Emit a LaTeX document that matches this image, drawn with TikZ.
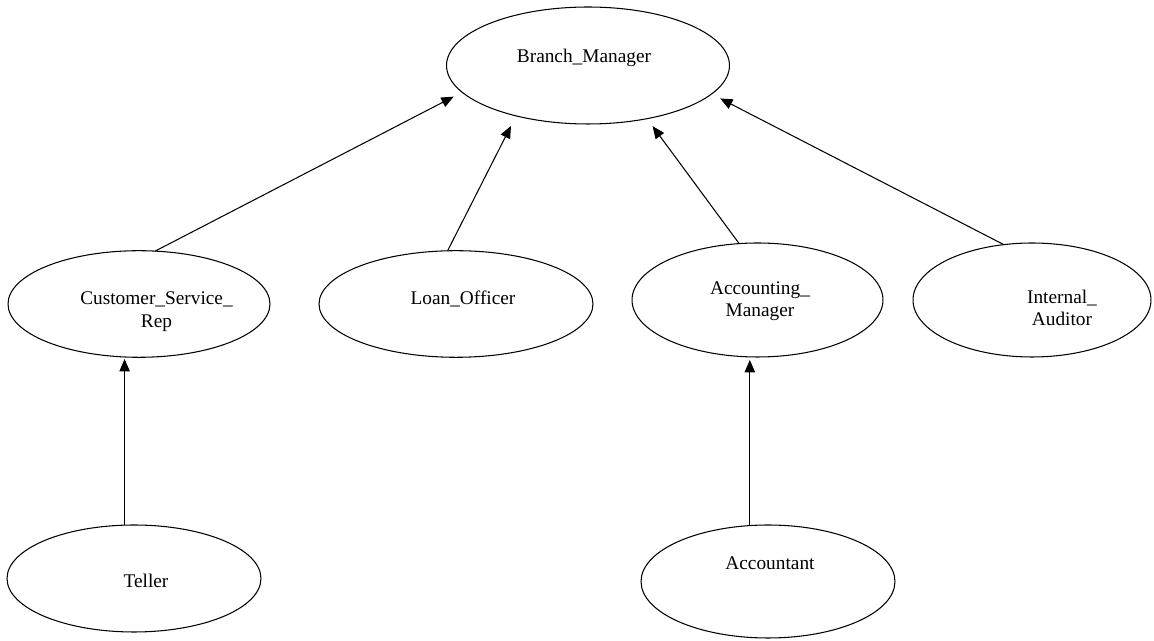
\documentclass[tikz,border=0pt]{standalone}
\usepackage{fontspec}
\setmainfont{Liberation Serif}
\usetikzlibrary{arrows.meta,shapes.geometric}
\begin{document}
\begin{tikzpicture}[x=0.02cm,y=-0.02cm,
  ell/.style={draw, ellipse, line width=0.6pt, inner sep=0pt, outer sep=0pt},
  lbl/.style={anchor=base, inner sep=0pt, font=\fontsize{11}{13}\selectfont},
  conn/.style={line width=0.6pt, -{Triangle[length=7pt,width=5.9pt]}}]
\useasboundingbox (0,0) rectangle (1154,641);
% ellipses
\node[ell, minimum width=5.66cm, minimum height=2.34cm] (bm) at (588,65.5) {};
\node[ell, minimum width=5.24cm, minimum height=2.132cm] (csr) at (139,304) {};
\node[ell, minimum width=5.48cm, minimum height=2.132cm] (lo) at (456,304) {};
\node[ell, minimum width=5.02cm, minimum height=2.28cm] (am) at (757.5,300) {};
\node[ell, minimum width=4.76cm, minimum height=2.28cm] (ia) at (1032,300) {};
\node[ell, minimum width=5.08cm, minimum height=2.14cm] (te) at (134,578.5) {};
\node[ell, minimum width=5.08cm, minimum height=2.26cm] (ac) at (768,581.5) {};
% labels
\node[lbl] (bmt) at (584,63) {Branch\_Manager};
\node[lbl] (csrt1) at (156.5,305) {Customer\_Service\_};
\node[lbl] (csrt2) at (156.5,327.5) {Rep};
\node[lbl] (lot) at (463,305) {Loan\_Officer};
\node[lbl] (amt1) at (760,294.5) {Accounting\_};
\node[lbl] (amt2) at (760,316.5) {Manager};
\node[lbl] (iat1) at (1062,304) {Internal\_};
\node[lbl] (iat2) at (1062,326) {Auditor};
\node[lbl] (tet) at (146,588) {Teller};
\node[lbl] (act) at (770,570) {Accountant};
% connectors
\draw[conn, shorten >=5.46pt] (csr.73.3) -- (bm.192.2);
\draw[conn, shorten >=6.43pt] (lo.99.5) -- (bm.215.1);
\draw[conn, shorten >=5.35pt] (am.108) -- (bm.318.8);
\draw[conn, shorten >=5.52pt] (ia.117) -- (bm.347.85);
\draw[conn, shorten >=1pt] (te.100.6) -- (te.100.6 |- csr.south);
\draw[conn, shorten >=1.7pt] (ac.108.6) -- (ac.108.6 |- am.south);
\end{tikzpicture}
\end{document}
